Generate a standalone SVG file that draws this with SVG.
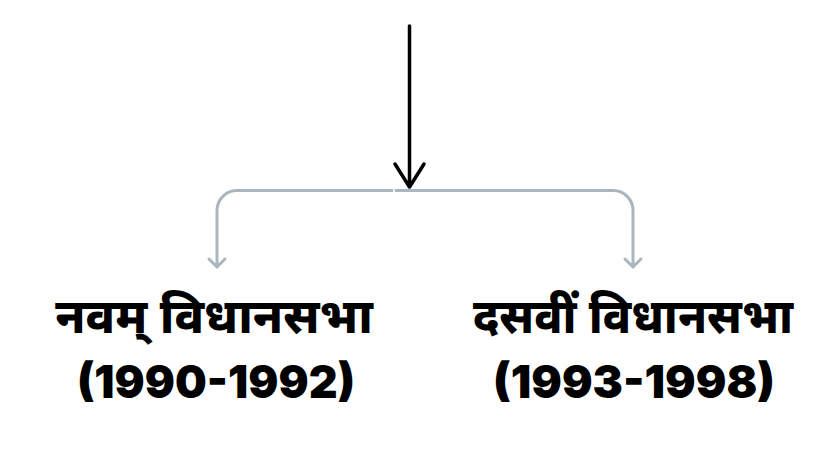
<svg xmlns="http://www.w3.org/2000/svg" width="838" height="476" viewBox="0 0 838 476">
<style>
.t{font-family:"Noto Sans Devanagari","Noto Sans","DejaVu Sans",sans-serif;font-weight:800;fill:#000;text-anchor:middle}
.hi{font-size:48px}
.num{font-size:46px;font-family:Inter,"Liberation Sans",sans-serif;font-weight:900}
.g{fill:none;stroke:#aab5bd;stroke-width:3;stroke-linecap:round;stroke-linejoin:round}
.b{fill:none;stroke:#000;stroke-width:3.5;stroke-linecap:round;stroke-linejoin:round}
</style>
<rect width="838" height="476" fill="#fff"/>
<g id="connectors">
<path class="b" d="M409.5 26 V187 M395 164 L409.5 187 L424 164"/>
<path class="g" d="M392 190.5 H237 A20 20 0 0 0 217 210.5 V267 M209 259 L217 267 L225 259"/>
<path class="g" d="M396 190.5 H613 A20 20 0 0 1 633 210.5 V267 M625 259 L633 267 L641 259"/>
</g>
<g id="node-left">
<text class="t hi" x="214" y="333">नवम् विधानसभा</text>
<text class="t num" x="216" y="398" textLength="278" lengthAdjust="spacingAndGlyphs">(1990-1992)</text>
</g>
<g id="node-right">
<text class="t hi" x="633" y="333" textLength="320" lengthAdjust="spacingAndGlyphs">दसवीं विधानसभा</text>
<text class="t num" x="634" y="398" textLength="282" lengthAdjust="spacingAndGlyphs">(1993-1998)</text>
</g>
</svg>
